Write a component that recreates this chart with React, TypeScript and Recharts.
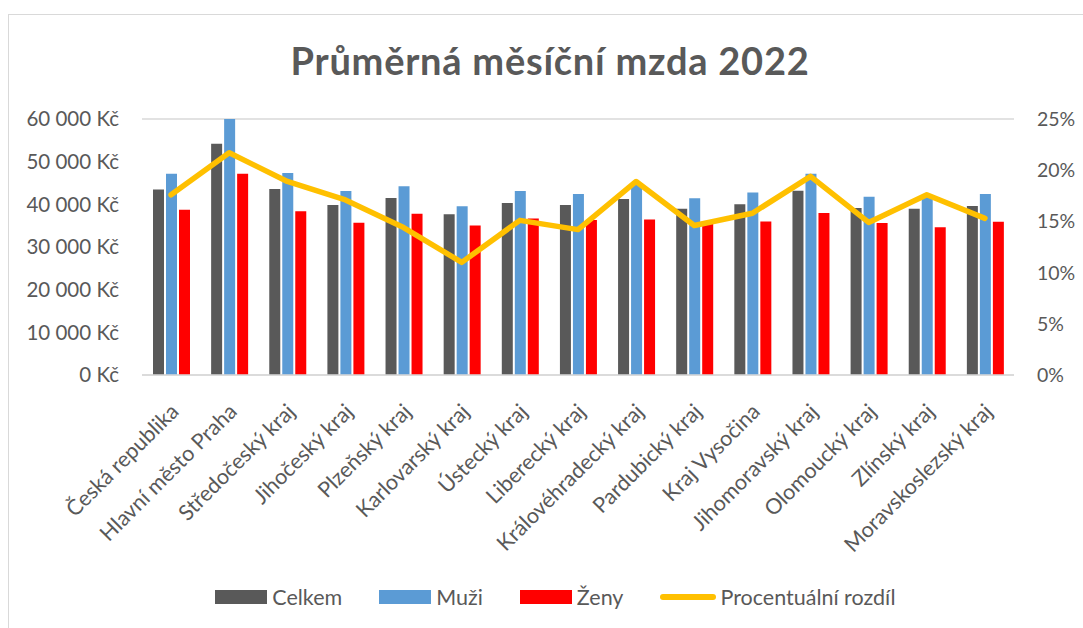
import React from "react";
import {
  ComposedChart,
  Bar,
  Line,
  XAxis,
  YAxis,
  CartesianGrid,
  Legend,
} from "recharts";

const regions = [
  "Česká republika",
  "Hlavní město Praha",
  "Středočeský kraj",
  "Jihočeský kraj",
  "Plzeňský kraj",
  "Karlovarský kraj",
  "Ústecký kraj",
  "Liberecký kraj",
  "Královéhradecký kraj",
  "Pardubický kraj",
  "Kraj Vysočina",
  "Jihomoravský kraj",
  "Olomoucký kraj",
  "Zlínský kraj",
  "Moravskoslezský kraj",
];

const celkem = [43500, 54200, 43600, 39850, 41500, 37650, 40300, 39850, 41250, 38950, 40000, 43200, 39150, 38950, 39600];
const muzi = [47150, 60000, 47350, 43150, 44250, 39550, 43150, 42450, 44600, 41400, 42750, 47150, 41800, 41700, 42450];
const zeny = [38750, 47150, 38350, 35700, 37800, 35050, 36700, 36300, 36450, 35400, 36000, 37950, 35600, 34650, 35900];
const rozdil = [17.6, 21.7, 18.9, 17.1, 14.4, 11.0, 15.1, 14.2, 18.9, 14.6, 15.8, 19.4, 14.9, 17.6, 15.3];

const leftTicks = [0, 10000, 20000, 30000, 40000, 50000, 60000];
const rightTicks = [0, 5, 10, 15, 20, 25];
const legendOrder = ["Celkem", "Muži", "Ženy", "Procentuální rozdíl"];

const data = regions.map((name, i) => ({
  name,
  celkem: celkem[i],
  muzi: muzi[i],
  zeny: zeny[i],
  rozdil: rozdil[i],
}));

const FONT = "Lato, 'Open Sans', sans-serif";
const TEXT = "#595959";

const fmtKc = (v: number) =>
  `${String(v).replace(/\B(?=(\d{3})+(?!\d))/g, " ")} Kč`;

const XTick = (props: any) => {
  const { x, y, payload } = props;
  return (
    <g transform={`translate(${x + 9},${y + 38})`}>
      <text
        transform="rotate(-45)"
        textAnchor="end"
        x={0}
        y={0}
        fill={TEXT}
        fontSize={21.5}
        fontFamily={FONT}
      >
        {payload.value}
      </text>
    </g>
  );
};

const LegendContent = (props: any) => {
  const payload = [...(props.payload || [])].sort(
    (a: any, b: any) => legendOrder.indexOf(a.value) - legendOrder.indexOf(b.value)
  );
  return (
    <div
      style={{
        display: "flex",
        justifyContent: "center",
        alignItems: "center",
        fontFamily: FONT,
        fontSize: 21.5,
        color: TEXT,
        paddingLeft: 28,
        height: 26,
      }}
    >
      {payload.map((p: any, i: number) => (
        <div
          key={i}
          style={{
            display: "flex",
            alignItems: "center",
            marginRight: i === payload.length - 1 ? 0 : 37,
          }}
        >
          {p.type === "line" ? (
            <span
              style={{
                display: "inline-block",
                width: 56,
                height: 6,
                borderRadius: 3,
                background: p.color,
                marginRight: 4,
              }}
            />
          ) : (
            <span
              style={{
                display: "inline-block",
                width: 52,
                height: 14,
                background: p.color,
                marginRight: 5,
              }}
            />
          )}
          <span>{p.value}</span>
        </div>
      ))}
    </div>
  );
};

export default function App() {
  return (
    <div
      style={{
        position: "absolute",
        left: 0,
        top: 0,
        width: 1083,
        height: 628,
        overflow: "hidden",
        background: "#fff",
      }}
    >
      <div
        style={{
          position: "absolute",
          left: 8,
          top: 14,
          width: 2000,
          height: 2000,
          borderLeft: "1.5px solid #d9d9d9",
          borderTop: "1.5px solid #d9d9d9",
        }}
      />
      <div
        style={{
          position: "absolute",
          left: 0,
          top: 37,
          width: 1100,
          textAlign: "center",
          fontFamily: FONT,
          fontWeight: 700,
          fontSize: 38,
          letterSpacing: 0.75,
          color: TEXT,
        }}
      >
        Průměrná měsíční mzda 2022
      </div>
      <div style={{ position: "absolute", left: 0, top: 0 }}>
        <ComposedChart
          width={1083}
          height={628}
          data={data}
          margin={{ top: 119, right: 0, bottom: 0, left: 0 }}
          barSize={11}
          barGap={2}
        >
          <CartesianGrid vertical={false} stroke="#d9d9d9" strokeWidth={1.5} />
          <XAxis
            dataKey="name"
            interval={0}
            height={253}
            tick={<XTick />}
            tickLine={false}
            tickSize={0}
            tickMargin={0}
            axisLine={{ stroke: "#d9d9d9", strokeWidth: 1.5 }}
          />
          <YAxis
            yAxisId="left"
            orientation="left"
            width={142}
            domain={[0, 60000]}
            ticks={leftTicks}
            tickFormatter={fmtKc}
            axisLine={false}
            tickLine={false}
            tickSize={0}
            tickMargin={23}
            tick={{ fill: TEXT, fontSize: 20.5, fontFamily: FONT }}
          />
          <YAxis
            yAxisId="right"
            orientation="right"
            width={69}
            domain={[0, 25]}
            ticks={rightTicks}
            tickFormatter={(v: number) => `${v}%`}
            axisLine={false}
            tickLine={false}
            tickSize={0}
            tickMargin={23}
            tick={{ fill: TEXT, fontSize: 19.5, fontFamily: FONT, textAnchor: "start" }}
          />
          <Bar yAxisId="left" dataKey="celkem" name="Celkem" fill="#595959" isAnimationActive={false} />
          <Bar yAxisId="left" dataKey="muzi" name="Muži" fill="#5B9BD5" isAnimationActive={false} />
          <Bar yAxisId="left" dataKey="zeny" name="Ženy" fill="#FF0000" isAnimationActive={false} />
          <Line
            yAxisId="right"
            type="linear"
            dataKey="rozdil"
            name="Procentuální rozdíl"
            stroke="#FFC000"
            strokeWidth={5.5}
            strokeLinejoin="round"
            strokeLinecap="round"
            dot={false}
            activeDot={false}
            legendType="line"
            isAnimationActive={false}
          />
          <Legend
            layout="horizontal"
            verticalAlign="middle"
            align="center"
            content={<LegendContent />}
            wrapperStyle={{ top: 584, left: 0, width: 1083, height: 26 }}
          />
        </ComposedChart>
      </div>
    </div>
  );
}
